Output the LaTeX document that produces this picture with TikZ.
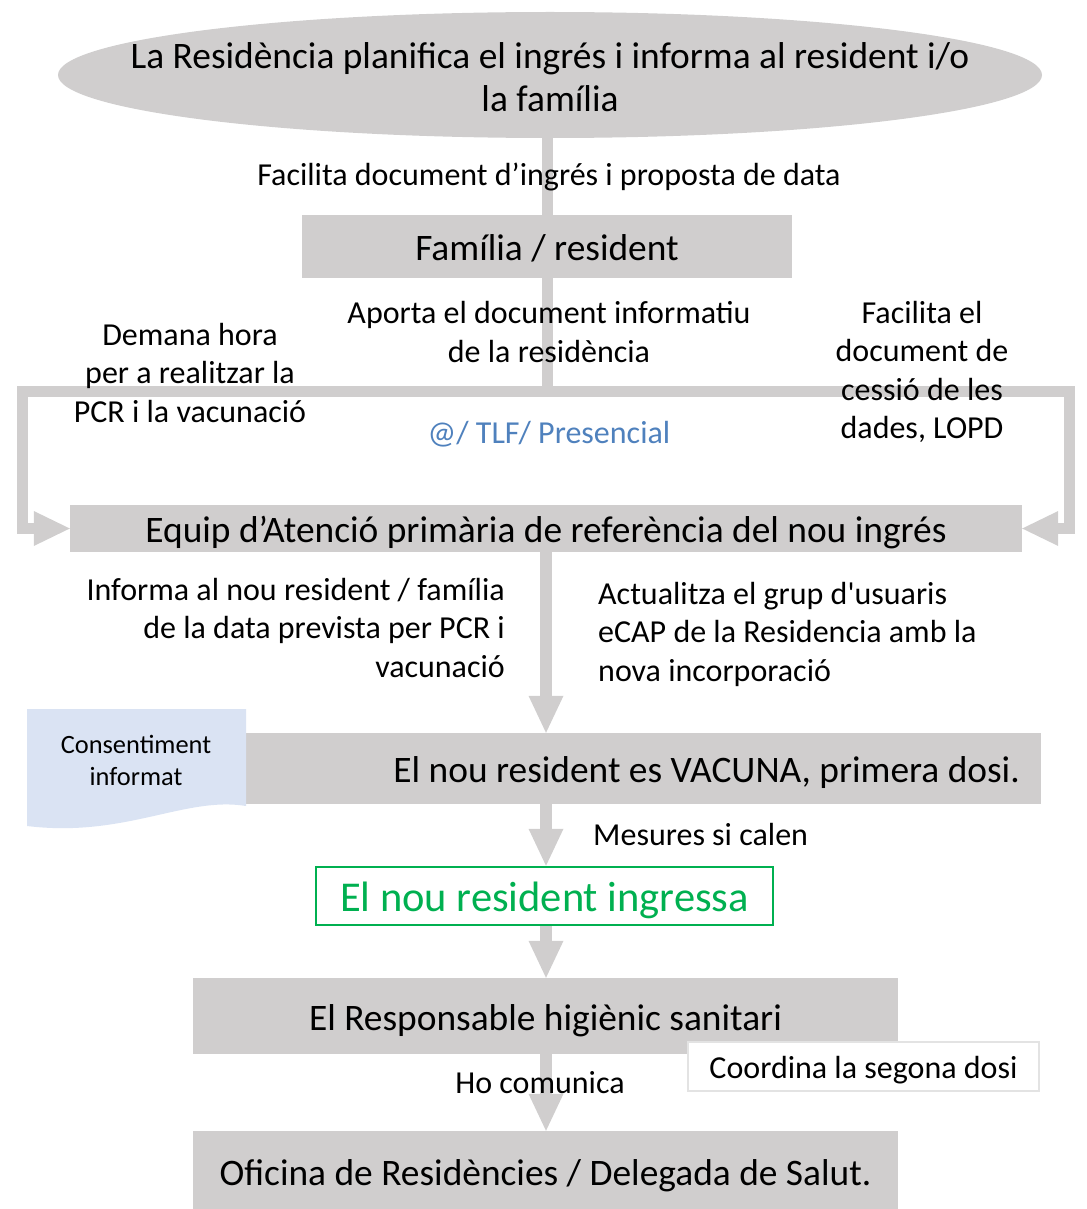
\documentclass[tikz,border=0pt]{standalone}
\usepackage{fontspec}
\newfontfamily\carl{Carlito}
\newcommand\fsz[2]{\fontsize{#1}{#2}\selectfont}
\usetikzlibrary{shapes.geometric,arrows.meta}
\definecolor{gr}{HTML}{D0CECE}
\definecolor{grn}{HTML}{00B050}
\definecolor{blu}{HTML}{4F81BD}
\definecolor{lblu}{HTML}{DAE3F3}
\definecolor{cbord}{HTML}{E3E3E3}
\begin{document}
\begin{tikzpicture}[x=1pt,y=-1pt,
  rbox/.style n args={2}{fill=gr, inner sep=0, minimum width=#1, minimum height=#2, font=\carl\fsz{37.4}{43}},
  baseoff/.style={text height=#1, text depth=0pt},
  lab/.style={font=\carl\fsz{32}{38.5}, align=center, inner sep=0},
  conn/.style={draw=gr, line width=11pt},
  arr/.style={draw=gr, line width=12pt, -{Triangle[length=37pt,width=35pt,line width=0pt]}},
  sidearr/.style={conn, line join=miter, {Triangle[length=36pt,width=35pt,line width=0pt]}-{Triangle[length=36pt,width=35pt,line width=0pt]}}
]
\useasboundingbox (0,0) rectangle (1086,1209);
% boxes
\node[ellipse, fill=gr, inner sep=0, minimum width=984, minimum height=126] (ell) at (550,75) {};
\node[font=\carl\fsz{37.4}{43}, align=center, inner sep=0] (elltext) at (550,77) {La Residència planifica el ingrés i informa al resident i/o\\la família};
\node[rbox={490}{63}, baseoff=27pt] (fam) at (547,246.5) {Família / resident};
\node[rbox={952}{47}, baseoff=27pt] (equip) at (546,528.5) {Equip d’Atenció primària de referència del nou ingrés};
\node[rbox={795}{71}] (vac) at (643.5,768.5) {};
\node[font=\carl\fsz{37.4}{43}, inner sep=0, anchor=base east] (vactext) at (1020,782) {El nou resident es VACUNA, primera dosi.};
\fill[lblu] (27,709) -- (246,709) -- (246,806) .. controls (185,796) and (125,838) .. (27,826) -- cycle;
\node[font=\carl\fsz{26.4}{32}, align=center, inner sep=0] (cons) at (136,760) {Consentiment\\informat};
\node[draw=grn, line width=2.5pt, inner sep=0, minimum width=457, minimum height=58, text=grn, font=\carl\fsz{42.5}{43}, baseoff=30pt] (ingr) at (544.5,896) {El nou resident ingressa};
\node[rbox={705}{76}, baseoff=28pt] (resp) at (545.5,1016) {El Responsable higiènic sanitari};
\node[rbox={705}{78}, baseoff=31pt] (ofic) at (545.5,1170) {Oficina de Residències / Delegada de Salut.};
\node[fill=white, draw=cbord, line width=2pt, inner sep=0, minimum width=351, minimum height=49, font=\carl\fsz{32}{38}, baseoff=23pt] (coord) at (863.5,1066.5) {Coordina la segona dosi};
% connectors
\coordinate (bl) at (22,391.5);
\coordinate (br) at (1069,391.5);
\draw[conn] (ell.south -| fam.north) -- (fam.north);
\draw[conn] (fam.south) -- (fam.south |- bl);
\draw[sidearr] (equip.west) -| (bl) -- (br) |- (equip.east);
\draw[arr] (equip.south) -- (equip.south |- vac.north);
\draw[arr] (equip.south |- vac.south) -- (equip.south |- ingr.north);
\draw[arr] (equip.south |- ingr.south) -- (equip.south |- resp.north);
\draw[arr] (equip.south |- resp.south) -- (equip.south |- ofic.north);
% labels
\node[lab] (l1) at (549,177) {Facilita document d’ingrés i proposta de data};
\node[lab] (l2) at (549,332) {Aporta el document informatiu\\de la residència};
\node[lab] (l3) at (190,373) {Demana hora\\per a realitzar la\\PCR i la vacunació};
\node[lab] (l4) at (922,372) {Facilita el\\document de\\cessió de les\\dades, LOPD};
\node[lab, text=blu] (l5) at (549,434) {@/ TLF/ Presencial};
\node[lab, align=right, anchor=east] (l6) at (505,627.5) {Informa al nou resident / família\\de la data prevista per PCR i\\vacunació};
\node[lab, align=left, anchor=west] (l7) at (598,634) {Actualitza el grup d'usuaris\\eCAP de la Residencia amb la\\nova incorporació};
\node[lab, anchor=west] (l8) at (593,834) {Mesures si calen};
\node[lab] (l9) at (540,1083) {Ho comunica};
\end{tikzpicture}
\end{document}
